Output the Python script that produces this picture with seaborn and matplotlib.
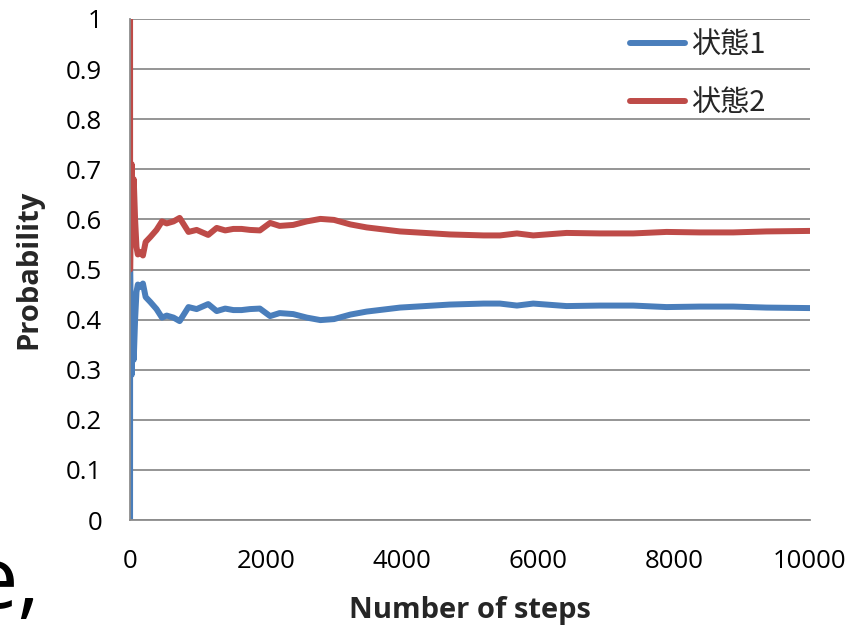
import pandas as pd
import matplotlib
matplotlib.use("Agg")
import matplotlib.pyplot as plt
import seaborn as sns

# values
steps = [1, 2, 10, 25, 40, 55, 75, 95, 115, 150, 190, 230, 300, 390, 470, 540,
         640, 730, 860, 980, 1150, 1275, 1400, 1520, 1640, 1765, 1910, 2060,
         2200, 2400, 2600, 2800, 3000, 3240, 3480, 3970, 4460, 4700, 5200,
         5440, 5690, 5930, 6420, 6910, 7400, 7890, 8380, 8870, 9360, 10000]
state1 = [0.0, 0.5, 0.4, 0.29, 0.36, 0.32, 0.4, 0.455, 0.47, 0.465, 0.472,
          0.445, 0.435, 0.421, 0.404, 0.408, 0.404, 0.397, 0.425, 0.421,
          0.431, 0.417, 0.422, 0.419, 0.419, 0.421, 0.422, 0.407, 0.413,
          0.411, 0.404, 0.399, 0.401, 0.41, 0.416, 0.424, 0.428, 0.43, 0.432,
          0.432, 0.428, 0.432, 0.427, 0.428, 0.428, 0.425, 0.426, 0.426,
          0.424, 0.423]
state2 = [1.0, 0.5, 0.6, 0.71, 0.64, 0.68, 0.6, 0.545, 0.53, 0.535, 0.528,
          0.555, 0.565, 0.579, 0.596, 0.592, 0.596, 0.603, 0.575, 0.579,
          0.569, 0.583, 0.578, 0.581, 0.581, 0.579, 0.578, 0.593, 0.587,
          0.589, 0.596, 0.601, 0.599, 0.59, 0.584, 0.576, 0.572, 0.57, 0.568,
          0.568, 0.572, 0.568, 0.573, 0.572, 0.572, 0.575, 0.574, 0.574,
          0.576, 0.577]
series_names = ["状態1", "状態2"]
colors = ["#4A7EBB", "#BE4B48"]

df = pd.concat([
    pd.DataFrame({"step": steps, "prob": state1, "series": series_names[0]}),
    pd.DataFrame({"step": steps, "prob": state2, "series": series_names[1]}),
])

sns.set_style("white")
plt.rcParams["font.family"] = ["Open Sans", "Noto Sans CJK JP", "DejaVu Sans"]

fig = plt.figure(figsize=(8.65, 6.3), dpi=100)
ax = fig.add_axes([130 / 865, 1 - 520 / 630, 680 / 865, 501 / 630])

sns.lineplot(data=df, x="step", y="prob", hue="series", palette=colors,
             linewidth=4.3, ax=ax, sort=False, estimator=None)

ax.set_xlim(0, 10000)
ax.set_ylim(0, 1)
ax.set_xticks(range(0, 10001, 2000))
ax.set_yticks([i / 10 for i in range(11)])
ax.set_yticklabels(["0", "0.1", "0.2", "0.3", "0.4", "0.5", "0.6", "0.7",
                    "0.8", "0.9", "1"])
ax.yaxis.grid(True, color="#8C8C8C", linewidth=1.3)
ax.set_axisbelow(True)
for s in ["top", "right"]:
    ax.spines[s].set_visible(False)
for s in ["left", "bottom"]:
    ax.spines[s].set_color("#8C8C8C")
    ax.spines[s].set_linewidth(1.3)
ax.tick_params(axis="both", which="major", direction="out", length=7,
               width=1.3, color="#8C8C8C", labelsize=18.5, labelcolor="black")
ax.tick_params(axis="y", pad=13)
ax.tick_params(axis="x", pad=14)

ax.set_xlabel("Number of steps", fontsize=21, fontweight="bold")
ax.set_ylabel("Probability", fontsize=21, fontweight="bold")
ax.xaxis.set_label_coords(0.5, -0.152)
ax.yaxis.set_label_coords(-0.128, 0.5)

ax.legend(loc="upper left", bbox_to_anchor=(0.735, 0.978), frameon=False,
          handlelength=1.9, handletextpad=0.2, labelspacing=0.95,
          borderpad=0, borderaxespad=0,
          prop={"family": ["Noto Sans CJK JP", "DejaVu Sans"], "size": 21})

# cropped slide text at the lower left corner
fig.text(-0.035, 0.035, "e,", fontsize=62, color="black")

fig.savefig("out.png", dpi=100)
